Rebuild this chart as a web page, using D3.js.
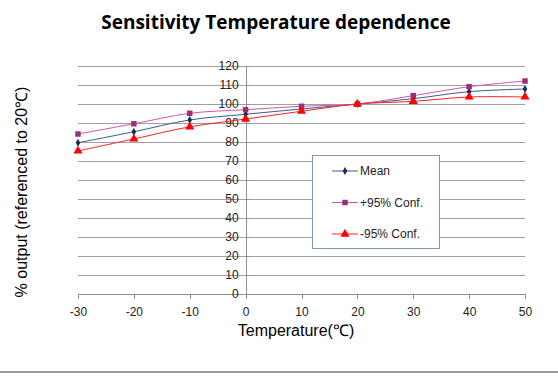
<!DOCTYPE html>
<html>
<head>
<meta charset="utf-8">
<script src="https://cdn.jsdelivr.net/npm/d3@7"></script>
<style>
  body { margin: 0; background: #fff; }
  svg { display: block; }
</style>
</head>
<body>
<div id="chart"></div>
<script>
// temperatures (deg C) and output values
var temps = [-30, -20, -10, 0, 10, 20, 30, 40, 50];
var meanVals = [79.6, 85.4, 91.6, 94.6, 97.4, 100, 102.8, 106.5, 107.9];
var plusVals = [84.2, 89.6, 95.1, 97.0, 98.8, 100, 104.4, 109.1, 112.1];
var minusVals = [75.3, 81.6, 88.0, 92.1, 96.2, 100, 101.4, 103.7, 103.7];
var xTicks = [-30, -20, -10, 0, 10, 20, 30, 40, 50];
var yTicks = [0, 10, 20, 30, 40, 50, 60, 70, 80, 90, 100, 110, 120];
var seriesNames = ["Mean", "+95% Conf.", "-95% Conf."];

var width = 558, height = 378;

var svg = d3.select("#chart").append("svg")
  .attr("width", width)
  .attr("height", height);

var x = d3.scaleLinear().domain([-30, 50]).range([78, 525]);
var y = d3.scaleLinear().domain([0, 120]).range([294, 66]);

// title
svg.append("text")
  .attr("x", 276)
  .attr("y", 29)
  .attr("text-anchor", "middle")
  .style("font-family", "'Open Sans', sans-serif")
  .style("font-weight", "bold")
  .style("font-size", "19px")
  .text("Sensitivity Temperature dependence");

// horizontal gridlines
svg.append("g").selectAll("line")
  .data(yTicks.filter(function(d) { return d > 0; }))
  .enter().append("line")
  .attr("x1", x(-30))
  .attr("x2", x(50))
  .attr("y1", function(d) { return y(d); })
  .attr("y2", function(d) { return y(d); })
  .attr("stroke", "#a0a0a0")
  .attr("stroke-width", 1)
  .attr("shape-rendering", "crispEdges");

var plain = function(d) { return String(d); };

// x axis along y=0
var xAxis = svg.append("g")
  .attr("transform", "translate(0," + y(0) + ")")
  .call(d3.axisBottom(x).tickValues(xTicks).tickFormat(plain).tickSize(5).tickPadding(8).tickSizeOuter(0));

// y axis at x=0
var yAxis = svg.append("g")
  .attr("transform", "translate(" + x(0) + ",0)")
  .call(d3.axisLeft(y).tickValues(yTicks).tickFormat(plain).tickSize(5).tickPadding(2).tickSizeOuter(0));

[xAxis, yAxis].forEach(function(a) {
  a.selectAll("path, line").attr("stroke", "#909090").attr("shape-rendering", "crispEdges");
  a.selectAll("text")
    .attr("fill", "#222")
    .style("font-family", "'Liberation Sans', Arial, sans-serif")
    .style("font-size", "12px");
});
yAxis.selectAll("line").attr("x2", 4);

// axis titles
svg.append("text")
  .attr("x", 296)
  .attr("y", 336)
  .attr("text-anchor", "middle")
  .style("font-family", "'Liberation Sans', Arial, sans-serif")
  .style("font-size", "16px")
  .text("Temperature(℃)");

svg.append("text")
  .attr("transform", "translate(27,192) rotate(-90)")
  .attr("text-anchor", "middle")
  .style("font-family", "'Liberation Sans', Arial, sans-serif")
  .style("font-size", "16px")
  .text("% output (referenced to 20℃)");

// series
var series = [
  { name: seriesNames[0], values: meanVals, line: "#3b5a8a", fill: "#14285a", symbol: d3.symbolDiamond, size: 18 },
  { name: seriesNames[1], values: plusVals, line: "#d05aa0", fill: "#9b2f7a", symbol: d3.symbolSquare, size: 30 },
  { name: seriesNames[2], values: minusVals, line: "#ff2020", fill: "#ff0000", symbol: d3.symbolTriangle, size: 36 }
];

var line = d3.line()
  .x(function(d, i) { return x(temps[i]); })
  .y(function(d) { return y(d); })
  .curve(d3.curveCatmullRom.alpha(0.5));

series.forEach(function(s) {
  svg.append("path")
    .attr("d", line(s.values))
    .attr("fill", "none")
    .attr("stroke", s.line)
    .attr("stroke-width", 1);

  svg.append("g").selectAll("path")
    .data(s.values)
    .enter().append("path")
    .attr("transform", function(d, i) { return "translate(" + x(temps[i]) + "," + y(d) + ")"; })
    .attr("d", d3.symbol().type(s.symbol).size(s.size))
    .attr("fill", s.fill);
});

// legend
var legend = svg.append("g");
legend.append("rect")
  .attr("x", 312.5)
  .attr("y", 155.5)
  .attr("width", 127)
  .attr("height", 93)
  .attr("fill", "#fff")
  .attr("stroke", "#7f95b5")
  .attr("stroke-width", 1);

series.forEach(function(s, i) {
  var ly = 171 + i * 31.5;
  legend.append("line")
    .attr("x1", 332).attr("x2", 358)
    .attr("y1", ly).attr("y2", ly)
    .attr("stroke", s.line);
  legend.append("path")
    .attr("transform", "translate(345," + ly + ")")
    .attr("d", d3.symbol().type(s.symbol).size(s.size))
    .attr("fill", s.fill);
  legend.append("text")
    .attr("x", 360)
    .attr("y", ly)
    .attr("dy", "0.35em")
    .style("font-family", "'Liberation Sans', Arial, sans-serif")
    .style("font-size", "12px")
    .attr("fill", "#222")
    .text(s.name);
});

// bottom separator line
svg.append("rect")
  .attr("x", 0).attr("y", 371)
  .attr("width", width).attr("height", 2)
  .attr("fill", "#999");
</script>
</body>
</html>
